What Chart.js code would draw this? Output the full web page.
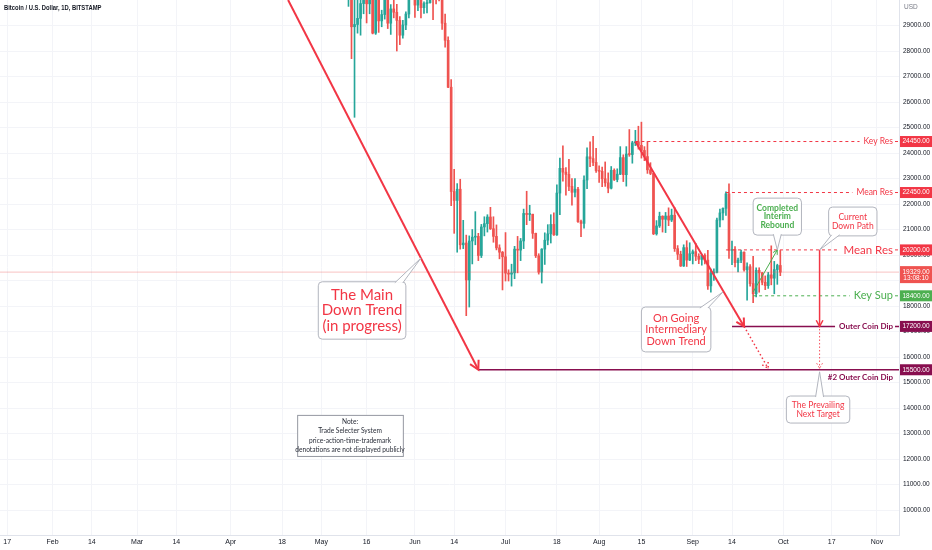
<!DOCTYPE html>
<html>
<head>
<meta charset="utf-8">
<script src="https://cdn.jsdelivr.net/npm/chart.js@4.4.0/dist/chart.umd.min.js"></script>
<style>
  html, body { margin: 0; padding: 0; background: #fff; }
  #wrap { width: 932px; height: 550px; position: relative; }
</style>
</head>
<body>
<div id="wrap"><canvas id="chart"></canvas></div>
<script>
// Daily BTCUSD candles (Bitstamp), first candle date, then one per day.
const firstDate = '2022-05-09';

const opens = [
  34060, 30090, 31010, 28950, 29040, 29280, 29860, 31300, 29850, 30420, 28700, 30300, 29180, 29430, 30280, 29090, 29650, 29520, 29200, 28620, 29020, 29450, 31720,
  31780, 29800, 30450, 29700, 29860, 29900, 31360, 31130, 30200, 30110, 29090, 28420, 26580, 22490, 22140, 22580, 20400, 20470, 19020, 20550, 20700, 20730, 19980, 21100, 21230, 21490, 21030, 20730, 20280, 20110,
  19930, 19290, 19250, 19300, 20230, 20190, 20550, 21630, 21590, 21600, 20850, 19970, 19330, 20230, 20580, 20830, 21200, 20790, 22430, 23400, 23250, 23160, 22690, 22460, 22580, 21310, 21240, 22940, 23850, 23780, 23630,
  23310, 23280, 22990, 22830, 22620, 23320, 22960, 23170, 23820, 23150, 23960, 23940, 24400, 24440, 24300, 24100, 23860, 23340, 23200, 20830, 21140, 21520, 21400, 21530, 21370, 21560, 20250, 20030, 19570, 20290, 19800,
  20050, 20130, 19950, 19830, 19990, 19800, 18790, 19290, 19320, 21370, 21650, 21830, 22400, 20180, 20220, 19700, 19800, 20110, 19420, 19540, 18880, 18480, 19400, 19300, 18930, 18800, 19220, 19090, 19430, 19590
];
const highs = [
  34240, 32640, 32180, 30030, 31080, 30300, 31420, 31300, 30780, 30660, 30500, 30700, 29600, 30450, 30640, 29820, 30180, 29830, 29350, 29200, 29540, 32200, 32380,
  31960, 30640, 30670, 29930, 30160, 31750, 31550, 31320, 30640, 30350, 29450, 28560, 26880, 23360, 22800, 22970, 21360, 20780, 20750, 21000, 21700, 20850, 21200, 21500, 21580, 21870, 21500, 21180, 20400, 20140,
  20880, 19420, 19640, 20340, 20730, 20650, 21800, 22500, 21950, 21600, 20860, 20050, 20250, 20870, 21190, 21580, 21650, 22750, 23800, 24280, 23430, 23750, 23000, 23000, 22650, 21370, 23100, 24200, 24440, 24650, 24180,
  23500, 23450, 23650, 23220, 23470, 23380, 23380, 24250, 23930, 24250, 24920, 24460, 24890, 25050, 25210, 24250, 24450, 23620, 23200, 21350, 21680, 21540, 21670, 21850, 21800, 21860, 20370, 20150, 20400, 20560, 20480,
  20200, 20450, 20050, 20030, 20050, 20180, 19450, 19460, 21450, 21800, 21850, 22480, 22790, 20550, 20330, 19880, 20190, 20120, 19690, 19620, 19950, 19500, 19500, 19320, 19180, 19320, 20360, 19750, 19640, 20180
];
const lows = [
  30030, 29750, 27700, 25400, 28700, 28620, 29460, 29100, 29460, 28670, 28650, 28730, 28950, 29250, 28880, 28650, 29300, 28000, 28250, 28500, 28840, 29300, 31200,
  29320, 29580, 29300, 29470, 29490, 29880, 29230, 29850, 29960, 28850, 28150, 26560, 21930, 20850, 20110, 20230, 20250, 17620, 17960, 19650, 20400, 19780, 19900, 20750, 20900, 21000, 20500, 20200, 19850, 18630,
  18980, 18980, 18780, 19070, 19300, 19780, 20250, 21190, 21350, 20650, 19900, 19250, 18900, 19630, 20400, 20470, 20770, 20770, 21580, 22900, 22350, 22520, 21950, 22280, 21280, 20720, 21050, 22600, 23460, 23500, 23240,
  22850, 22680, 22690, 22440, 22590, 22920, 22870, 23150, 22880, 22700, 23870, 23600, 24290, 24150, 23800, 23700, 23200, 23150, 20800, 20780, 21080, 20900, 20880, 21150, 21310, 20140, 19820, 19550, 19550, 19550, 19780,
  19650, 19780, 19660, 19600, 19650, 18650, 18540, 19000, 19300, 21100, 21380, 21550, 19870, 19620, 19530, 19340, 19700, 19370, 18230, 18780, 18130, 18360, 18540, 18830, 18640, 18690, 18830, 18480, 18850, 19190
];
const closes = [
  30090, 31010, 28950, 29040, 29280, 29860, 31300, 29850, 30420, 28700, 30300, 29180, 29430, 30280, 29090, 29650, 29520, 29200, 28620, 29020, 29450, 31720, 31780,
  29800, 30450, 29700, 29860, 29900, 31360, 31130, 30200, 30110, 29090, 28420, 26580, 22490, 22140, 22580, 20400, 20470, 19020, 20550, 20700, 20730, 19980, 21100, 21230, 21490, 21030, 20730, 20280, 20110, 19930,
  19290, 19250, 19300, 20230, 20190, 20550, 21630, 21590, 21600, 20850, 19970, 19330, 20230, 20580, 20830, 21200, 20790, 22430, 23400, 23250, 23160, 22690, 22460, 22580, 21310, 21240, 22940, 23850, 23780, 23630, 23310,
  23280, 22990, 22830, 22620, 23320, 22960, 23170, 23820, 23150, 23960, 23940, 24400, 24440, 24300, 24100, 23860, 23340, 23200, 20830, 21140, 21520, 21400, 21530, 21370, 21560, 20250, 20030, 19570, 20290, 19800, 20050,
  20130, 19950, 19830, 19990, 19800, 18790, 19290, 19320, 21370, 21650, 21830, 22400, 20180, 20220, 19700, 19800, 20110, 19420, 19540, 18880, 18480, 19400, 19300, 18930, 18800, 19220, 19090, 19430, 19590, 19329
];

// Time axis labels
const tickDates = ['2022-01-17', '2022-02-01', '2022-02-14', '2022-03-01', '2022-03-14', '2022-04-01', '2022-04-18',
  '2022-05-01', '2022-05-16', '2022-06-01', '2022-06-14', '2022-07-01', '2022-07-18', '2022-08-01', '2022-08-15',
  '2022-09-01', '2022-09-14', '2022-10-01', '2022-10-17', '2022-11-01'];
const tickLabels = ['17', 'Feb', '14', 'Mar', '14', 'Apr', '18', 'May', '16', 'Jun', '14', 'Jul', '18', 'Aug', '15',
  'Sep', '14', 'Oct', '17', 'Nov'];

// Price axis labels
const priceTicks = [10000, 11000, 12000, 13000, 14000, 15000, 16000, 17000, 18000, 19000,
  20000, 21000, 22000, 23000, 24000, 25000, 26000, 27000, 28000, 29000];

// Horizontal levels drawn on the chart
const levelPrices = [24450, 22450, 20200, 18400, 17200, 15500];
const levelNames = ['Key Res', 'Mean Res', 'Mean Res', 'Key Sup', 'Outer Coin Dip', '#2 Outer Coin Dip'];
const levelStarts = ['2022-08-13', '2022-09-12', '2022-09-12', '2022-09-21', '2022-09-14', '2022-06-22'];

const lastPrice = 19329;
const countdown = '13:08:10';

// Convert a date string to a day number counted from 1 Jan 2022.
function dayIndex(str) {
    const p = str.split('-').map(Number);
    return (Date.UTC(p[0], p[1] - 1, p[2]) - Date.UTC(2022, 0, 1)) / 86400000;
}

const RED = '#f23645';
const GREEN = '#4caf50';
const MAROON = '#880e4f';
const UP = '#26a69a';
const DOWN = '#ef5350';
const AXIS_FONT = '"Liberation Sans", Arial, sans-serif';
const NOTE_FONT = 'Lato, "Noto Sans", sans-serif';

const days = opens.map((_, i) => dayIndex(firstDate) + i);
const candleColors = opens.map((o, i) => closes[i] >= o ? UP : DOWN);
const tickDays = tickDates.map(dayIndex);

// Styles for each level, same order as levelPrices.
const levelStyles = [
    { color: RED, dash: [3, 3], size: 8.5, weight: 'normal', label: RED },
    { color: RED, dash: [3, 3], size: 8.5, weight: 'normal', label: RED },
    { color: RED, dash: [3, 3], size: 11.5, weight: 'normal', label: RED },
    { color: GREEN, dash: [3, 3], size: 11, weight: 'normal', label: GREEN },
    { color: MAROON, dash: [], size: 8, weight: 'bold', label: MAROON, width: 1.5 },
    { color: MAROON, dash: [], size: 8, weight: 'bold', label: MAROON, width: 1.5, below: true }
];

function font(size, weight, family) {
    return (weight || 'normal') + ' ' + size + 'px ' + (family || NOTE_FONT);
}

function arrowHead(ctx, x0, y0, x1, y1, len) {
    const a = Math.atan2(y1 - y0, x1 - x0);
    const s = 0.5;
    ctx.beginPath();
    ctx.moveTo(x1 - len * Math.cos(a - s), y1 - len * Math.sin(a - s));
    ctx.lineTo(x1, y1);
    ctx.lineTo(x1 - len * Math.cos(a + s), y1 - len * Math.sin(a + s));
    ctx.stroke();
}

function arrow(ctx, x0, y0, x1, y1, color, width, dash, head) {
    ctx.save();
    ctx.strokeStyle = color;
    ctx.lineWidth = width;
    ctx.setLineDash(dash);
    ctx.beginPath();
    ctx.moveTo(x0, y0);
    ctx.lineTo(x1, y1);
    ctx.stroke();
    arrowHead(ctx, x0, y0, x1, y1, head);
    ctx.restore();
}

// Rounded box with a pointer tail towards tip, and centred lines of text.
function callout(ctx, l, t, r, b, tip, lines, color, size, weight, gap) {
    ctx.save();
    ctx.fillStyle = '#fff';
    ctx.strokeStyle = '#b2b5be';
    ctx.lineWidth = 1;
    ctx.beginPath();
    ctx.roundRect(l, t, r - l, b - t, 4);
    ctx.fill();
    ctx.stroke();
    if (tip) {
        const cx = Math.min(Math.max(tip.x, l + 7), r - 7);
        const edge = tip.y < t ? t + 1 : b - 1;
        ctx.beginPath();
        ctx.moveTo(cx - 4, edge);
        ctx.lineTo(tip.x, tip.y);
        ctx.lineTo(cx + 4, edge);
        ctx.closePath();
        ctx.fill();
        ctx.beginPath();
        ctx.moveTo(cx - 4, edge);
        ctx.lineTo(tip.x, tip.y);
        ctx.lineTo(cx + 4, edge);
        ctx.stroke();
    }
    ctx.fillStyle = color;
    ctx.font = font(size, weight);
    ctx.textAlign = 'center';
    ctx.textBaseline = 'middle';
    const y0 = (t + b) / 2 - (lines.length - 1) * gap / 2;
    lines.forEach((s, i) => ctx.fillText(s, (l + r) / 2, y0 + i * gap));
    ctx.restore();
}

function priceTag(ctx, x, y, text, bg, sub) {
    const h = sub ? 17 : 11;
    const top = sub ? y - 6 : y - h / 2;
    ctx.fillStyle = bg;
    ctx.fillRect(x + 1, top, 32, h);
    ctx.fillStyle = '#fff';
    ctx.font = font(6.5, 'normal', AXIS_FONT);
    ctx.textAlign = 'center';
    ctx.textBaseline = 'middle';
    ctx.fillText(text, x + 17, y);
    if (sub) ctx.fillText(sub, x + 17, y + 6.5);
}

const drawings = {
    id: 'drawings',
    afterDraw(chart) {
        const ctx = chart.ctx;
        const area = chart.chartArea;
        const X = d => chart.scales.x.getPixelForValue(dayIndex(d));
        const Y = p => chart.scales.y.getPixelForValue(p);

        ctx.save();
        ctx.beginPath();
        ctx.rect(area.left, area.top, area.right - area.left, area.bottom - area.top);
        ctx.clip();

        // last price line
        ctx.strokeStyle = 'rgba(239, 83, 80, 0.35)';
        ctx.lineWidth = 1;
        ctx.beginPath();
        ctx.moveTo(area.left, Y(lastPrice));
        ctx.lineTo(area.right, Y(lastPrice));
        ctx.stroke();

        // levels
        levelPrices.forEach((p, i) => {
            const s = levelStyles[i];
            const y = Y(p);
            const x0 = X(levelStarts[i]);
            const textRight = area.right - 6;
            ctx.font = font(s.size, s.weight);
            const tw = ctx.measureText(levelNames[i]).width;
            ctx.strokeStyle = s.color;
            ctx.lineWidth = s.width || 1;
            ctx.setLineDash(s.dash);
            ctx.beginPath();
            ctx.moveTo(x0, y);
            if (s.below) {
                ctx.lineTo(area.right, y);
            } else {
                ctx.lineTo(textRight - tw - 4, y);
                ctx.moveTo(textRight + 2, y);
                ctx.lineTo(area.right, y);
            }
            ctx.stroke();
            ctx.setLineDash([]);
            ctx.fillStyle = s.color;
            ctx.textAlign = 'right';
            ctx.textBaseline = 'middle';
            ctx.fillText(levelNames[i], textRight, s.below ? y + 8 : y);
        });

        // main down trend
        arrow(ctx, X('2022-04-20'), Y(30000), X('2022-06-22'), Y(15500), RED, 2, [], 10);
        // intermediary down trend
        arrow(ctx, X('2022-08-13'), Y(24450), X('2022-09-18'), Y(17200), RED, 2, [], 9);
        // projected path
        arrow(ctx, X('2022-09-18'), Y(17200), X('2022-09-26'), Y(15550), RED, 1.5, [1.5, 2.5], 7);
        // current down path
        arrow(ctx, X('2022-10-13'), Y(20200), X('2022-10-13'), Y(17200), RED, 1.5, [], 7);
        arrow(ctx, X('2022-10-13'), Y(17100), X('2022-10-13'), Y(15550), '#f7525f', 1, [1.5, 2], 6);
        // interim rebound
        arrow(ctx, X('2022-09-21'), Y(18550), X('2022-09-29'), Y(20200), GREEN, 1, [], 5);

        // callouts
        callout(ctx, X('2022-04-30'), Y(18950), X('2022-05-29'), Y(16700),
            { x: X('2022-06-03'), y: Y(19880) }, ['The Main', 'Down Trend', '(in progress)'], RED, 15, 'normal', 15.5);
        callout(ctx, X('2022-08-15'), Y(17960), X('2022-09-07'), Y(16200),
            { x: X('2022-09-11'), y: Y(18550) }, ['On Going', 'Intermediary', 'Down Trend'], RED, 11, 'normal', 11.5);
        callout(ctx, X('2022-09-21'), Y(22230), X('2022-10-07'), Y(20780),
            { x: X('2022-09-29'), y: Y(20200) }, ['Completed', 'Interim', 'Rebound'], GREEN, 8.5, 'bold', 8.5);
        callout(ctx, X('2022-10-16'), Y(21880), X('2022-11-01'), Y(20750),
            { x: X('2022-10-13'), y: Y(20200) }, ['Current', 'Down Path'], RED, 8.5, 'normal', 9);
        callout(ctx, X('2022-10-02'), Y(14470), X('2022-10-23'), Y(13410),
            { x: X('2022-10-13'), y: Y(15420) }, ['The Prevailing', 'Next Target'], RED, 8.5, 'normal', 8.5);

        // note box
        const nl = X('2022-04-23'), nt = Y(13730), nr = X('2022-05-28'), nb = Y(12120);
        ctx.fillStyle = '#fff';
        ctx.strokeStyle = '#9598a1';
        ctx.lineWidth = 1;
        ctx.fillRect(nl, nt, nr - nl, nb - nt);
        ctx.strokeRect(nl + 0.5, nt + 0.5, nr - nl, nb - nt);
        ctx.fillStyle = '#2a2e39';
        ctx.font = font(6.6, 'normal');
        ctx.textAlign = 'center';
        ctx.textBaseline = 'middle';
        ['Note:', 'Trade Selecter System', 'price-action-time-trademark', 'denotations are not displayed publicly']
            .forEach((s, i) => ctx.fillText(s, (nl + nr) / 2, nt + 6.5 + i * 9.5));
        ctx.restore();

        // header, squeezed a little to match the narrow chart font
        ctx.save();
        ctx.fillStyle = '#131722';
        ctx.font = font(7.5, 'bold', AXIS_FONT);
        ctx.textAlign = 'left';
        ctx.textBaseline = 'middle';
        ctx.translate(4, 8);
        ctx.scale(0.78, 1);
        ctx.fillText('Bitcoin / U.S. Dollar, 1D, BITSTAMP', 0, 0);
        ctx.restore();

        ctx.save();
        ctx.fillStyle = '#787b86';
        ctx.font = font(6.5, 'normal', AXIS_FONT);
        ctx.textAlign = 'left';
        ctx.textBaseline = 'middle';
        ctx.fillText('USD', area.right + 5, 7);
        levelPrices.forEach((p, i) => priceTag(ctx, area.right, Y(p), p.toFixed(2), levelStyles[i].label));
        priceTag(ctx, area.right, Y(lastPrice), lastPrice.toFixed(2), DOWN, countdown);
        ctx.restore();
    }
};

new Chart(document.getElementById('chart'), {
    type: 'bar',
    data: {
        datasets: [
            {
                label: 'wicks',
                data: days.map((d, i) => ({ x: d, y: [lows[i], highs[i]] })),
                backgroundColor: candleColors,
                barThickness: 1,
                grouped: false,
                order: 2
            },
            {
                label: 'bodies',
                data: days.map((d, i) => ({ x: d, y: [opens[i], closes[i]] })),
                backgroundColor: candleColors,
                barThickness: 2,
                minBarLength: 1,
                grouped: false,
                order: 1
            }
        ]
    },
    options: {
        responsive: true,
        maintainAspectRatio: false,
        animation: false,
        layout: { padding: 0 },
        plugins: {
            legend: { display: false },
            tooltip: { enabled: false }
        },
        scales: {
            x: {
                type: 'linear',
                min: 13.6,
                max: 311.3,
                offset: false,
                grid: { color: '#f3f4f8', drawTicks: false, offset: false },
                border: { color: '#e0e3eb' },
                afterBuildTicks: scale => { scale.ticks = tickDays.map(v => ({ value: v })); },
                afterFit: scale => {
                    scale.height = 15;
                    scale.paddingLeft = 0;
                    scale.paddingRight = 0;
                },
                ticks: {
                    autoSkip: false,
                    maxRotation: 0,
                    padding: 3,
                    color: '#131722',
                    font: { family: AXIS_FONT, size: 7 },
                    callback: value => tickLabels[tickDays.indexOf(value)] || ''
                }
            },
            y: {
                type: 'linear',
                position: 'right',
                min: 9020,
                max: 30000,
                beginAtZero: false,
                grid: { color: '#f3f4f8', drawTicks: false },
                border: { color: '#e0e3eb' },
                // fixed 1000 steps, Chart.js would otherwise stretch the step to fit min/max
                afterBuildTicks: scale => { scale.ticks = priceTicks.map(v => ({ value: v })); },
                afterFit: scale => {
                    scale.width = 33;
                    scale.paddingTop = 0;
                    scale.paddingBottom = 0;
                },
                ticks: {
                    autoSkip: false,
                    padding: 4,
                    color: '#131722',
                    font: { family: AXIS_FONT, size: 6.5 },
                    callback: value => Number(value).toFixed(2)
                }
            }
        }
    },
    plugins: [drawings]
});
</script>
</body>
</html>
